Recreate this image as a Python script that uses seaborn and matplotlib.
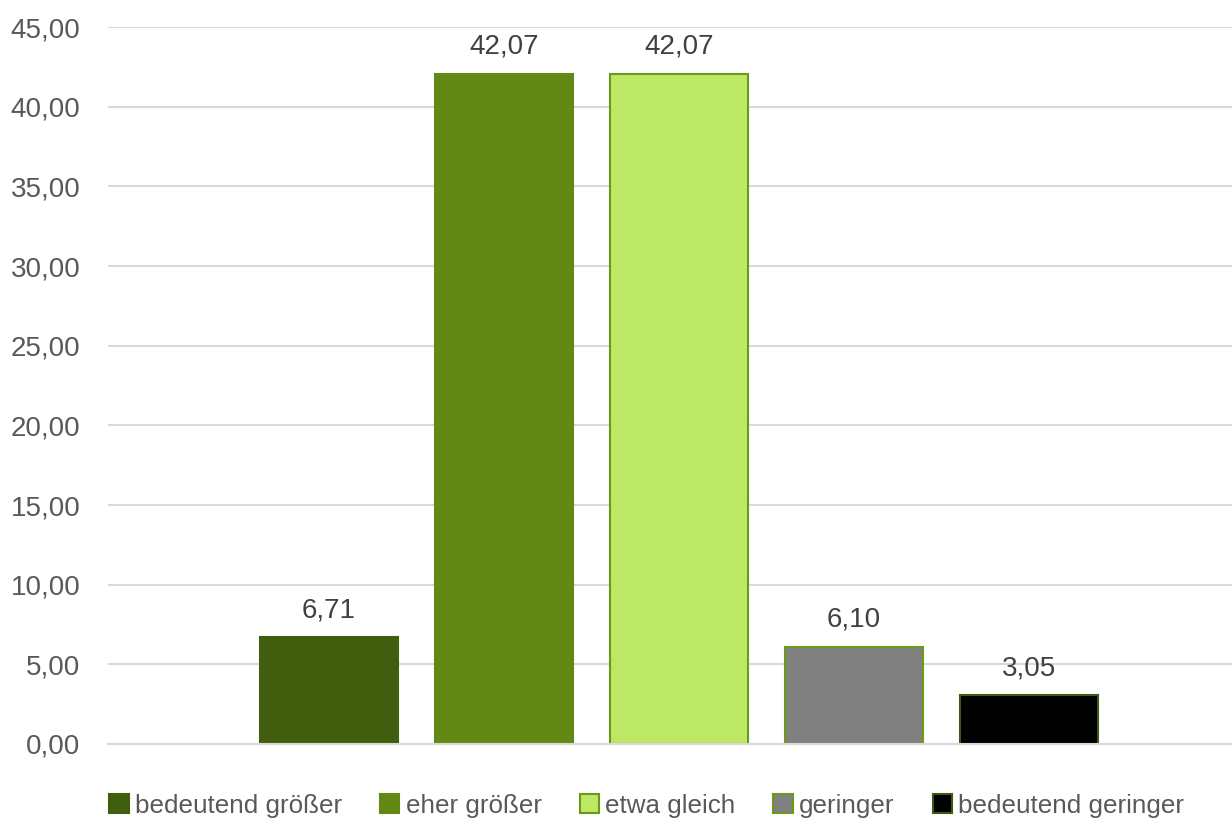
import matplotlib
matplotlib.use("Agg")
import matplotlib.pyplot as plt
from matplotlib.patches import Patch
from matplotlib.ticker import FuncFormatter, MultipleLocator
import seaborn as sns

categories = ["bedeutend größer", "eher größer", "etwa gleich", "geringer", "bedeutend geringer"]
values = [6.71, 42.07, 42.07, 6.10, 3.05]
fill_colors = ["#415E0E", "#638914", "#BDE866", "#808080", "#000000"]
edge_colors = ["#415E0E", "#638914", "#6A9A1A", "#6A9A1A", "#3E5A10"]

sns.set_theme(style="white")
plt.rcParams["font.family"] = ["Liberation Sans", "DejaVu Sans"]
text_color = "#595959"

fig = plt.figure(figsize=(12.32, 8.23), dpi=100)
ax = fig.add_axes([0.0877, 0.096, 0.9123, 0.871])

sns.barplot(x=categories, y=values, hue=categories, palette=fill_colors,
            order=categories, hue_order=categories, width=0.79,
            legend=False, saturation=1, ax=ax)

for bar, ec in zip(ax.patches, edge_colors):
    bar.set_edgecolor(ec)
    bar.set_linewidth(1.5)

for container in ax.containers:
    ax.bar_label(container, labels=[f"{v:.2f}".replace(".", ",") for v in container.datavalues],
                 padding=10, fontsize=20, color="#404040")

ax.set_ylim(0, 45)
ax.set_xlim(-1.263, 5.16)
ax.yaxis.set_major_locator(MultipleLocator(5))
ax.yaxis.set_major_formatter(FuncFormatter(lambda v, p: f"{v:.2f}".replace(".", ",")))
ax.grid(axis="y", color="#D9D9D9", linewidth=1.5)
ax.set_axisbelow(True)
for s in ["top", "right", "left"]:
    ax.spines[s].set_visible(False)
ax.spines["bottom"].set_color("#D9D9D9")
ax.spines["bottom"].set_linewidth(1.5)
ax.set_xticks([])
ax.set_xlabel("")
ax.set_ylabel("")
ax.tick_params(axis="y", length=0, pad=20, labelsize=20, labelcolor=text_color)

handles = [Patch(facecolor=fc, edgecolor=ec, linewidth=1.5, label=c)
           for c, fc, ec in zip(categories, fill_colors, edge_colors)]
fig.legend(handles=handles, loc="center", bbox_to_anchor=(0.525, 0.021), ncol=5,
           frameon=False, fontsize=18.7, handlelength=0.75, handleheight=0.75,
           handletextpad=0.25, columnspacing=1.45, labelcolor=text_color)

fig.savefig("out.png", dpi=100)
